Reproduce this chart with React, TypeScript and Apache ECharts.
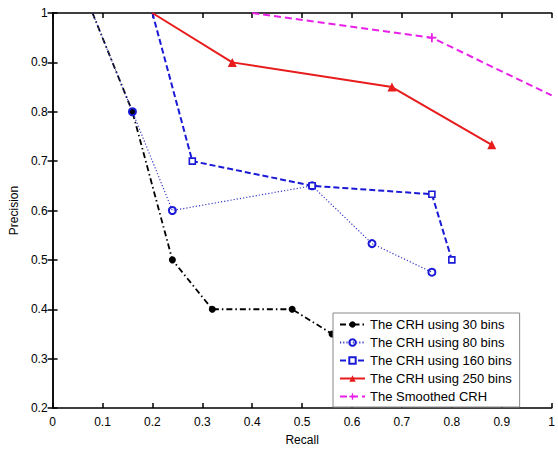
import React, { useEffect, useRef } from "react";
import * as echarts from "echarts";

const names = [
  "The CRH using 30 bins",
  "The CRH using 80 bins",
  "The CRH using 160 bins",
  "The CRH using 250 bins",
  "The Smoothed CRH",
];

// [recall, precision]; the first/last points of some lines have no marker
const bins30: number[][] = [[0.08, 1.0], [0.16, 0.8], [0.24, 0.5], [0.32, 0.4], [0.48, 0.4], [0.56, 0.35], [0.64, 0.3]];
const bins80: number[][] = [[0.08, 1.0], [0.16, 0.8], [0.24, 0.6], [0.52, 0.65], [0.64, 0.533], [0.76, 0.475]];
const bins160: number[][] = [[0.2, 1.0], [0.28, 0.7], [0.52, 0.65], [0.76, 0.633], [0.8, 0.5]];
const bins250: number[][] = [[0.2, 1.0], [0.36, 0.9], [0.68, 0.85], [0.88, 0.733]];
const smoothed: number[][] = [[0.4, 1.0], [0.76, 0.95], [1.0, 0.833]];

const noMarkerFirst = [true, true, true, true, true];
const noMarkerLast = [false, false, false, false, true];

const FONT = "Liberation Sans, Arial, sans-serif";

function toData(arr: number[][], idx: number) {
  return arr.map((p, i) => {
    const hide = (i === 0 && noMarkerFirst[idx]) || (i === arr.length - 1 && noMarkerLast[idx]);
    return hide ? { value: p, symbol: "none" } : { value: p };
  });
}

const plusPath = "path://M4,0H6V4H10V6H6V10H4V6H0V4H4Z";

export default function App() {
  const ref = useRef<HTMLDivElement>(null);
  useEffect(() => {
    if (!ref.current) return;
    const chart = echarts.init(ref.current, undefined, { renderer: "svg" });
    const axisLine = { show: true, lineStyle: { color: "#000", width: 1.5 } };
    const tick = { show: true, inside: true, length: 5, lineStyle: { color: "#000", width: 1.5 } };
    chart.setOption({
      animation: false,
      backgroundColor: "#fff",
      textStyle: { fontFamily: FONT },
      grid: { left: 51, top: 13, right: 2, bottom: 41, containLabel: false },
      xAxis: [
        {
          type: "value", min: 0, max: 1, interval: 0.1,
          name: "Recall", nameLocation: "middle", nameGap: 26,
          nameTextStyle: { color: "#000", fontSize: 12, fontFamily: FONT },
          axisLine, axisTick: tick, splitLine: { show: false },
          axisLabel: { color: "#000", fontSize: 12, fontFamily: FONT, margin: 8 },
        },
        {
          type: "value", position: "top", min: 0, max: 1, interval: 0.1,
          axisLine, axisTick: tick, splitLine: { show: false }, axisLabel: { show: false },
        },
      ],
      yAxis: [
        {
          type: "value", min: 0.2, max: 1, interval: 0.1,
          name: "Precision", nameLocation: "middle", nameGap: 24,
          nameTextStyle: { color: "#000", fontSize: 12, fontFamily: FONT },
          axisLine, axisTick: tick, splitLine: { show: false },
          axisLabel: { color: "#000", fontSize: 12, fontFamily: FONT, margin: 5 },
        },
        {
          type: "value", position: "right", min: 0.2, max: 1, interval: 0.1,
          axisLine, axisTick: tick, splitLine: { show: false }, axisLabel: { show: false },
        },
      ],
      legend: {
        orient: "vertical",
        left: 333, top: 313,
        backgroundColor: "#fff",
        borderColor: "#888",
        borderWidth: 1,
        borderRadius: 0,
        padding: [5, 8, 4, 6],
        itemWidth: 25, itemHeight: 8, itemGap: 5,
        textStyle: { color: "#000", fontSize: 13, fontFamily: FONT },
        data: names,
      },
      series: [
        {
          name: names[0], type: "line", data: toData(bins30, 0),
          symbol: "circle", symbolSize: 7,
          lineStyle: { color: "#000", width: 1.8, type: [6, 3, 1.5, 3] },
          itemStyle: { color: "#000" },
        },
        {
          name: names[1], type: "line", data: toData(bins80, 1),
          symbol: "circle", symbolSize: 7,
          lineStyle: { color: "#3838c8", width: 1.2, type: [1.2, 2] },
          itemStyle: { color: "rgba(255,255,255,0)", borderColor: "#1a1ad6", borderWidth: 2 },
        },
        {
          name: names[2], type: "line", data: toData(bins160, 2),
          symbol: "rect", symbolSize: 6,
          lineStyle: { color: "#1a1ad6", width: 2, type: [6, 3] },
          itemStyle: { color: "#fff", borderColor: "#1a1ad6", borderWidth: 1.6 },
        },
        {
          name: names[3], type: "line", data: toData(bins250, 3),
          symbol: "triangle", symbolSize: 9,
          lineStyle: { color: "#e81c1c", width: 2, type: "solid" },
          itemStyle: { color: "#e81c1c" },
        },
        {
          name: names[4], type: "line", data: toData(smoothed, 4),
          symbol: plusPath, symbolSize: 9,
          lineStyle: { color: "#e820e8", width: 2, type: [7, 4] },
          itemStyle: { color: "#e820e8" },
        },
      ],
    });
    return () => chart.dispose();
  }, []);
  return (
    <div
      ref={ref}
      style={{ position: "fixed", left: 0, top: 0, width: 558, height: 451 }}
    />
  );
}
